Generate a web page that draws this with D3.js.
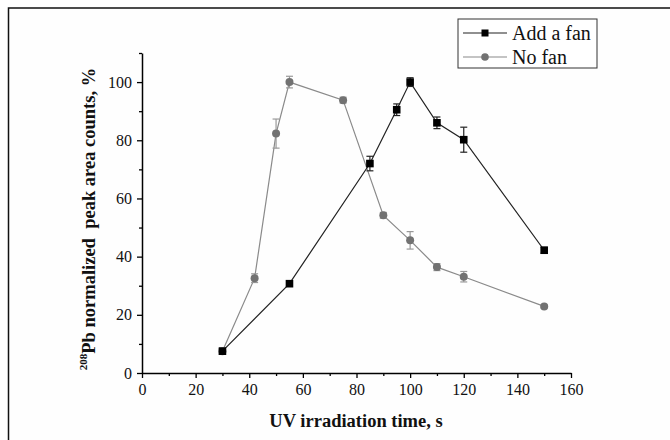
<!DOCTYPE html>
<html>
<head>
<meta charset="utf-8">
<script src="https://cdn.jsdelivr.net/npm/d3@7"></script>
<style>
  body { margin: 0; background: #fff; }
  svg { display: block; }
</style>
</head>
<body>
<svg id="chart" width="670" height="440"></svg>
<script>
'use strict';

// data
const timeFan = [30, 55, 85, 95, 100, 110, 120, 150];
const valFan = [7.5, 30.7, 72, 90.5, 100, 86, 80.2, 42.2];
const errFan = [1, 0.6, 2.5, 2, 1.5, 2, 4.3, 1];

const timeNoFan = [30, 42, 50, 55, 75, 90, 100, 110, 120, 150];
const valNoFan = [7.5, 32.6, 82.3, 100, 93.8, 54.2, 45.6, 36.4, 33.1, 22.9];
const errNoFan = [1, 1.5, 5, 2, 1, 1, 3, 1.2, 1.8, 0.5];

const xTicks = [0, 20, 40, 60, 80, 100, 120, 140, 160];
const yTicks = [0, 20, 40, 60, 80, 100];

const FONT = '"Liberation Serif", Tinos, "Times New Roman", serif';

const svg = d3.select('#chart');

// outer frame (only top/left visible in the reference)
svg.append('rect')
  .attr('x', 8.5).attr('y', 8)
  .attr('width', 700).attr('height', 500)
  .attr('fill', '#fefefe')
  .attr('stroke', '#111')
  .attr('stroke-width', 1.5);

const x = d3.scaleLinear().domain([0, 160]).range([142, 571]);
const y = d3.scaleLinear().domain([0, 110]).range([373, 53]);

// minor ticks
const xMinor = d3.axisBottom(x).tickValues(d3.range(10, 160, 20)).tickSize(3).tickFormat('');
const yMinor = d3.axisLeft(y).tickValues(d3.range(10, 111, 20)).tickSize(3).tickFormat('');

svg.append('g').attr('transform', 'translate(0,373)').call(xMinor)
  .call(g => g.select('.domain').remove())
  .selectAll('line').attr('stroke', '#000').attr('stroke-width', 1.3);
svg.append('g').attr('transform', 'translate(142,0)').call(yMinor)
  .call(g => g.select('.domain').remove())
  .selectAll('line').attr('stroke', '#000').attr('stroke-width', 1.3);

// major axes
const xAxis = d3.axisBottom(x).tickValues(xTicks).tickSize(5).tickSizeOuter(0).tickPadding(6);
const yAxis = d3.axisLeft(y).tickValues(yTicks).tickSize(5).tickSizeOuter(0).tickPadding(5);

const gx = svg.append('g').attr('transform', 'translate(0,373)').call(xAxis);
const gy = svg.append('g').attr('transform', 'translate(142,0)').call(yAxis);

[gx, gy].forEach(function(g) {
  g.attr('font-family', FONT).attr('font-size', 16);
  g.select('.domain').attr('stroke', '#000').attr('stroke-width', 1.5);
  g.selectAll('.tick line').attr('stroke', '#000').attr('stroke-width', 1.3);
  g.selectAll('.tick text')
    .attr('fill', '#111')
    .attr('font-family', FONT)
    .attr('font-size', 16);
});

// axis titles
svg.append('text')
  .attr('x', 356).attr('y', 427)
  .attr('text-anchor', 'middle')
  .attr('font-family', FONT)
  .attr('font-weight', 'bold')
  .attr('font-size', 18.5)
  .attr('fill', '#111')
  .text('UV irradiation time, s');

const yTitle = svg.append('text')
  .attr('transform', 'translate(92,219) rotate(-90)')
  .attr('text-anchor', 'middle')
  .attr('font-family', FONT)
  .attr('font-weight', 'bold')
  .attr('font-size', 18.5)
  .attr('fill', '#111')
  .style('white-space', 'pre');
yTitle.append('tspan').attr('font-size', 11).attr('dy', '-0.45em').text('208');
yTitle.append('tspan').attr('dy', '0.45em').text('Pb normalized  peak area counts, %');

const line = d3.line()
  .x(d => x(d[0]))
  .y(d => y(d[1]));

function drawSeries(times, vals, errs, opts) {
  const pts = times.map((t, i) => [t, vals[i], errs[i]]);
  const g = svg.append('g');

  g.append('path')
    .datum(pts)
    .attr('d', line)
    .attr('fill', 'none')
    .attr('stroke', opts.line)
    .attr('stroke-width', 1.2);

  // error bars
  const eb = g.selectAll('.err').data(pts).enter().append('g').attr('class', 'err');
  eb.append('line')
    .attr('x1', d => x(d[0])).attr('x2', d => x(d[0]))
    .attr('y1', d => y(d[1] - d[2])).attr('y2', d => y(d[1] + d[2]))
    .attr('stroke', opts.err).attr('stroke-width', 1.2);
  [-1, 1].forEach(function(s) {
    eb.append('line')
      .attr('x1', d => x(d[0]) - 3.5).attr('x2', d => x(d[0]) + 3.5)
      .attr('y1', d => y(d[1] + s * d[2])).attr('y2', d => y(d[1] + s * d[2]))
      .attr('stroke', opts.err).attr('stroke-width', 1.2);
  });

  if (opts.shape === 'square') {
    g.selectAll('.mk').data(pts).enter().append('rect')
      .attr('x', d => x(d[0]) - 3.8).attr('y', d => y(d[1]) - 3.8)
      .attr('width', 7.6).attr('height', 7.6)
      .attr('fill', opts.fill);
  } else {
    g.selectAll('.mk').data(pts).enter().append('circle')
      .attr('cx', d => x(d[0])).attr('cy', d => y(d[1]))
      .attr('r', 4)
      .attr('fill', opts.fill);
  }
}

drawSeries(timeNoFan, valNoFan, errNoFan, { line: '#8a8a8a', err: '#999', fill: '#727272', shape: 'circle' });
drawSeries(timeFan, valFan, errFan, { line: '#222', err: '#222', fill: '#000', shape: 'square' });

// legend
const legend = svg.append('g');
legend.append('rect')
  .attr('x', 458).attr('y', 19)
  .attr('width', 139).attr('height', 49)
  .attr('fill', '#fff')
  .attr('stroke', '#333')
  .attr('stroke-width', 1);

const legendItems = [
  { name: 'Add a fan', line: '#222', fill: '#000', shape: 'square', cy: 33 },
  { name: 'No fan', line: '#8a8a8a', fill: '#727272', shape: 'circle', cy: 57 }
];

legendItems.forEach(function(d) {
  legend.append('line')
    .attr('x1', 463).attr('x2', 507)
    .attr('y1', d.cy).attr('y2', d.cy)
    .attr('stroke', d.line).attr('stroke-width', 1.2);
  if (d.shape === 'square') {
    legend.append('rect')
      .attr('x', 485 - 3.5).attr('y', d.cy - 3.5)
      .attr('width', 7).attr('height', 7)
      .attr('fill', d.fill);
  } else {
    legend.append('circle')
      .attr('cx', 485).attr('cy', d.cy).attr('r', 3.8)
      .attr('fill', d.fill);
  }
  legend.append('text')
    .attr('x', 512).attr('y', d.cy + 6.5)
    .attr('font-family', FONT)
    .attr('font-size', 20)
    .attr('fill', '#111')
    .text(d.name);
});
</script>
</body>
</html>
